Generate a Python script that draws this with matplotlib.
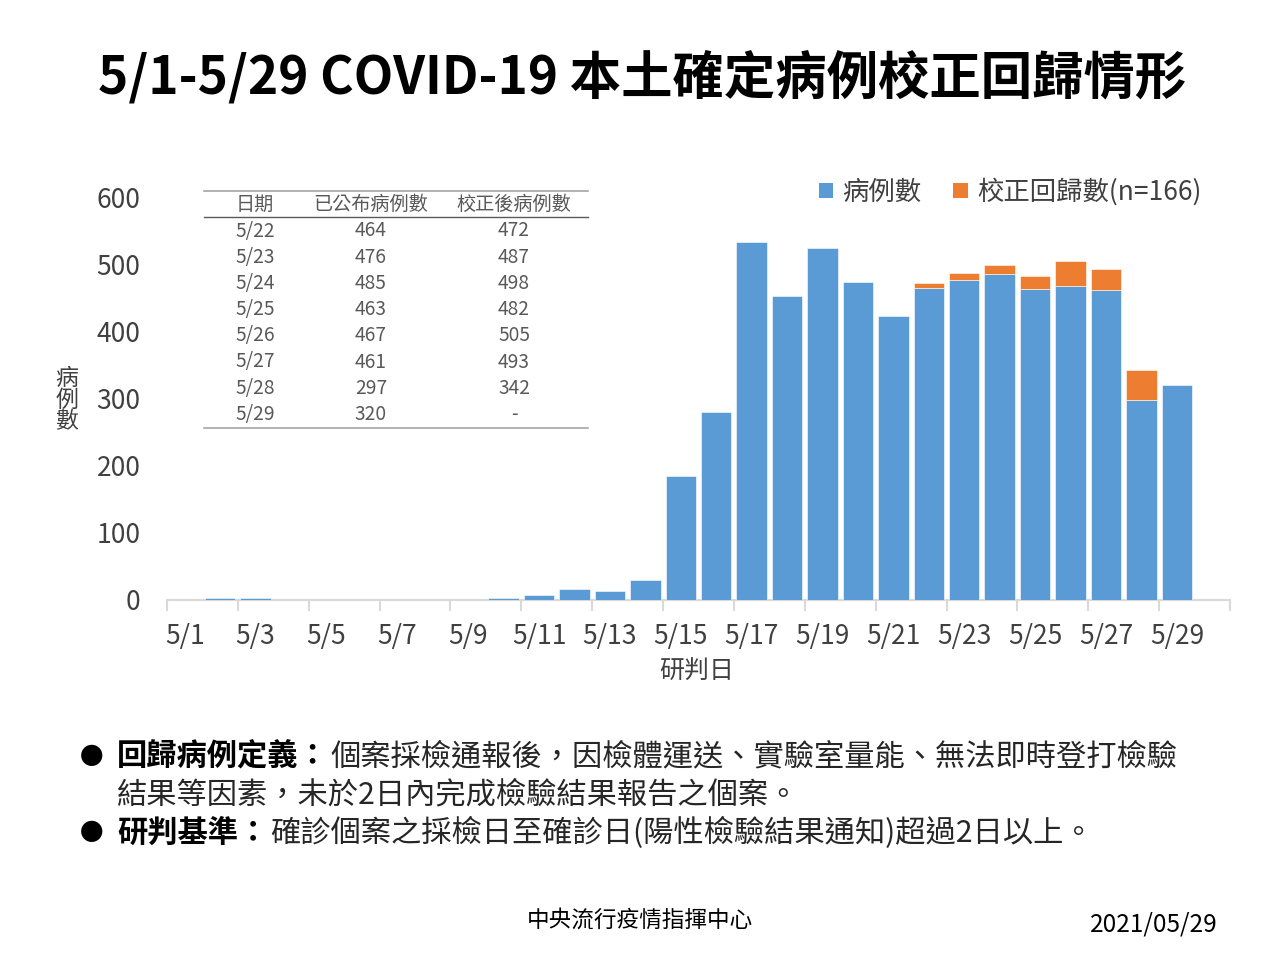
import matplotlib
matplotlib.use('Agg')
import matplotlib.pyplot as plt
from matplotlib.lines import Line2D
from matplotlib.patches import Patch

plt.rcParams['font.family'] = ['Noto Sans CJK TC', 'DejaVu Sans']

# ---------------- data ----------------
dates = ['5/1', '5/2', '5/3', '5/4', '5/5', '5/6', '5/7', '5/8', '5/9', '5/10',
         '5/11', '5/12', '5/13', '5/14', '5/15', '5/16', '5/17', '5/18', '5/19', '5/20',
         '5/21', '5/22', '5/23', '5/24', '5/25', '5/26', '5/27', '5/28', '5/29']
cases = [0, 3, 2, 0, 0, 0, 0, 0, 0, 3,
         7, 16, 13, 30, 185, 279, 533, 453, 524, 473,
         422, 464, 476, 485, 463, 467, 461, 297, 320]

table_dates = ['5/22', '5/23', '5/24', '5/25', '5/26', '5/27', '5/28', '5/29']
table_published = [464, 476, 485, 463, 467, 461, 297, 320]
table_corrected = [472, 487, 498, 482, 505, 493, 342, None]

xtick_labels = ['5/1', '5/3', '5/5', '5/7', '5/9', '5/11', '5/13', '5/15',
                '5/17', '5/19', '5/21', '5/23', '5/25', '5/27', '5/29']
yticks = [0, 100, 200, 300, 400, 500, 600]

BLUE = '#5B9BD5'
ORANGE = '#ED7D31'
GRID = '#D9D9D9'
TXT = '#404040'

W, H = 1280, 960
def P(x, y):
    return (x / W, 1 - y / H)

fig = plt.figure(figsize=(12.8, 9.6), dpi=100)
fig.patch.set_facecolor('white')

ax_left, ax_right, ax_top, ax_bottom = 167, 1230, 197, 599.7
ax = fig.add_axes([ax_left / W, 1 - ax_bottom / H, (ax_right - ax_left) / W, (ax_bottom - ax_top) / H])

xs = list(range(len(dates)))
ax.bar(xs, cases, width=0.86, color=BLUE, edgecolor='white', linewidth=0.4, zorder=3)

corr_x, corr_h, corr_b = [], [], []
for d, p, c in zip(table_dates, table_published, table_corrected):
    if c is None:
        continue
    i = dates.index(d)
    corr_x.append(i)
    corr_b.append(cases[i])
    corr_h.append(c - p)
ax.bar(corr_x, corr_h, bottom=corr_b, width=0.86, color=ORANGE, edgecolor='white', linewidth=0.4, zorder=3)

ax.set_xlim(-0.5, 29.5)
ax.set_ylim(0, 600)
for s in ['top', 'right', 'left']:
    ax.spines[s].set_visible(False)
ax.spines['bottom'].set_color(GRID)
ax.spines['bottom'].set_linewidth(1.5)
ax.spines['bottom'].set_zorder(1)

# y ticks
ax.set_yticks(yticks)
ax.set_yticklabels([str(v) for v in yticks], fontsize=19, color=TXT)
ax.tick_params(axis='y', length=0, pad=19)

# x ticks: marks at boundaries every 2 days, labels at odd days
ax.set_xticks([-0.5 + 2 * k for k in range(16)])
ax.set_xticklabels([])
ax.tick_params(axis='x', which='major', length=8, width=1.5, color=GRID, direction='out')
ax.set_xticks([dates.index(l) for l in xtick_labels], minor=True)
ax.set_xticklabels(xtick_labels, minor=True, fontsize=19, color=TXT)
ax.tick_params(axis='x', which='minor', length=0, pad=17)

# axis titles
fig.text(*P(697, 672), '研判日', ha='center', va='center', fontsize=18, color=TXT)
fig.text(*P(67, 400), '病\n例\n數', ha='center', va='center', fontsize=16.5, color=TXT, linespacing=0.9)

# legend
handles = [Patch(facecolor=BLUE, edgecolor='none', label='病例數'),
           Patch(facecolor=ORANGE, edgecolor='none', label='校正回歸數(n=166)')]
leg = fig.legend(handles=handles, loc='center right', bbox_to_anchor=P(1225, 192), ncol=2,
                 frameon=False, fontsize=19, handlelength=0.55, handleheight=0.55,
                 handletextpad=0.35, columnspacing=1.2)
for t in leg.get_texts():
    t.set_color(TXT)

# table
TBL = '#595959'
fig.add_artist(Line2D([204 / W, 588 / W], [P(0, 191)[1]] * 2, color='#A6A6A6', lw=1.2))
fig.add_artist(Line2D([204 / W, 588 / W], [P(0, 217)[1]] * 2, color='#595959', lw=1.0))
fig.add_artist(Line2D([204 / W, 588 / W], [P(0, 428)[1]] * 2, color='#A6A6A6', lw=1.2))
col_x = [255, 371, 514]
headers = ['日期', '已公布病例數', '校正後病例數']
TFS = 13.8
for cx, h in zip(col_x, headers):
    fig.text(*P(cx, 204), h, ha='center', va='center', fontsize=TFS, color=TBL)
for r, (d, p, c) in enumerate(zip(table_dates, table_published, table_corrected)):
    y = 231 + r * 26.2
    fig.text(*P(col_x[0], y), d, ha='center', va='center', fontsize=TFS, color=TBL)
    fig.text(*P(col_x[1], y), str(p), ha='center', va='center', fontsize=TFS, color=TBL)
    fig.text(*P(col_x[2], y), '-' if c is None else str(c), ha='center', va='center', fontsize=TFS, color=TBL)

# title
fig.text(*P(642, 78), '5/1-5/29 COVID-19 本土確定病例校正回歸情形', ha='center', va='center',
         fontsize=37, fontweight='bold', color='black')

# bullets
renderer = fig.canvas.get_renderer()
BFS = 21.8
def bullet_line(y, bold, rest):
    fig.text(*P(92, y), '●', ha='center', va='center', fontsize=17, color='black')
    t = fig.text(*P(117, y), bold, ha='left', va='center', fontsize=BFS, fontweight='bold', color='black')
    bb = t.get_window_extent(renderer=renderer)
    fig.text(bb.x1 / W + 2 / W, P(0, y)[1], rest, ha='left', va='center', fontsize=BFS, color='#262626')

bullet_line(757, '回歸病例定義：', '個案採檢通報後，因檢體運送、實驗室量能、無法即時登打檢驗')
fig.text(*P(117, 795), '結果等因素，未於2日內完成檢驗結果報告之個案。', ha='left', va='center',
         fontsize=BFS, color='#262626')
bullet_line(833, '研判基準：', '確診個案之採檢日至確診日(陽性檢驗結果通知)超過2日以上。')

# footer
fig.text(*P(640, 920), '中央流行疫情指揮中心', ha='center', va='center', fontsize=16.3, fontweight='medium', color='black')
fig.text(*P(1218, 925), '2021/05/29', ha='right', va='center', fontsize=17.5, color='black')

fig.savefig('out.png', dpi=100, facecolor='white')
